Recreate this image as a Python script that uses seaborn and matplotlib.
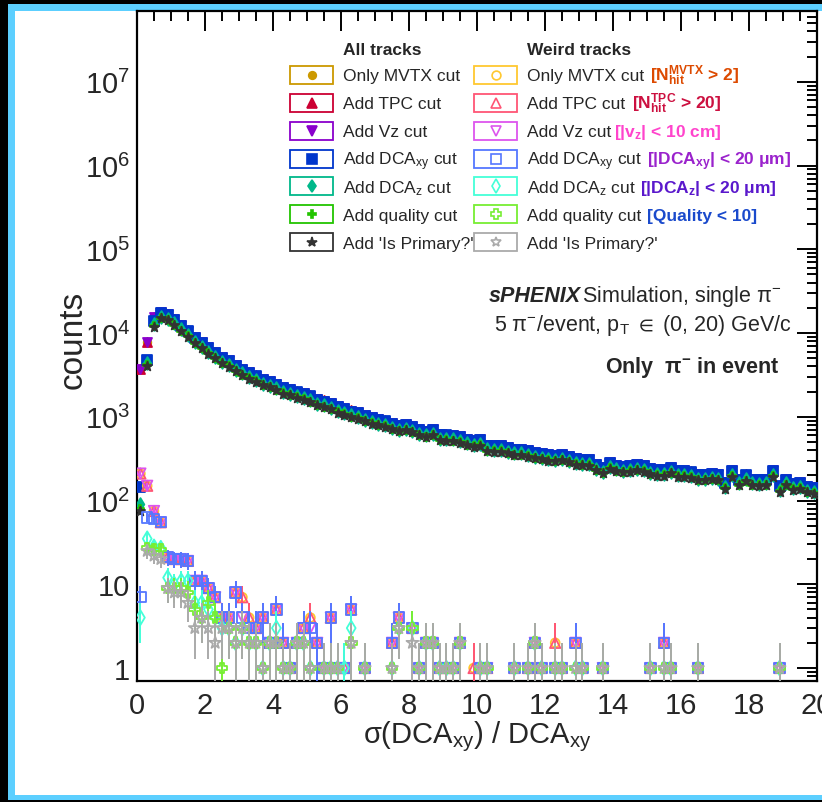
import numpy as np
import matplotlib
matplotlib.use('Agg')
import matplotlib.pyplot as plt
import seaborn as sns
from matplotlib.patches import Rectangle
from matplotlib.lines import Line2D
from matplotlib.ticker import FixedLocator, LogLocator, FuncFormatter, NullFormatter

sns.set_theme(style='white')
plt.rcParams['font.family'] = ['Liberation Sans', 'DejaVu Sans']
plt.rcParams['mathtext.fontset'] = 'custom'
plt.rcParams['mathtext.rm'] = 'Liberation Sans'
plt.rcParams['mathtext.it'] = 'Liberation Sans:italic'
plt.rcParams['mathtext.bf'] = 'Liberation Sans:bold'
plt.rcParams['mathtext.default'] = 'regular'

# ---------------- data (100 bins of width 0.2 on [0, 20]) ----------------
bin_edges = np.linspace(0, 20, 101)

all_mvtx = [3720, 7880, 15500, 17870, 17050, 14880, 12620, 10790, 8980, 7830,
            6820, 5950, 5180, 4730, 4190, 3760, 3430, 3130, 2850, 2680,
            2490, 2270, 2160, 2010, 1920, 1800, 1640, 1570, 1470, 1340,
            1270, 1190, 1130, 1060, 990, 948, 906, 850, 804, 827,
            783, 716, 685, 716, 628, 618, 613, 586, 549, 524,
            539, 466, 457, 457, 437, 417, 417, 399, 381, 370,
            359, 352, 363, 341, 322, 316, 311, 276, 252, 288,
            269, 260, 264, 276, 264, 245, 236, 236, 252, 230,
            230, 224, 209, 209, 215, 209, 167, 230, 183, 205,
            183, 180, 183, 230, 152, 183, 162, 167, 149, 145]
all_tpc = [3720, 7880, 15500, 17870, 17050, 14880, 12620, 10790, 8980, 7830,
           6820, 5950, 5180, 4730, 4190, 3760, 3430, 3130, 2850, 2680,
           2490, 2270, 2160, 2010, 1920, 1800, 1640, 1570, 1470, 1340,
           1270, 1190, 1130, 1060, 990, 948, 906, 850, 804, 827,
           783, 716, 685, 716, 628, 618, 613, 586, 549, 524,
           539, 466, 457, 457, 437, 417, 417, 399, 381, 370,
           359, 352, 363, 341, 322, 316, 311, 276, 252, 288,
           269, 260, 264, 276, 264, 245, 236, 236, 252, 230,
           230, 224, 209, 209, 215, 209, 167, 230, 183, 205,
           183, 180, 183, 230, 152, 183, 162, 167, 149, 145]
all_vz = [3700, 7850, 15400, 17800, 16950, 14800, 12550, 10700, 8930, 7780,
          6780, 5920, 5150, 4700, 4170, 3740, 3410, 3110, 2840, 2660,
          2480, 2250, 2150, 2000, 1910, 1790, 1630, 1560, 1460, 1330,
          1260, 1180, 1125, 1050, 985, 942, 900, 845, 800, 822,
          778, 712, 681, 712, 625, 614, 609, 583, 546, 521,
          536, 463, 455, 455, 434, 415, 415, 397, 379, 368,
          357, 350, 361, 339, 320, 314, 309, 274, 251, 287,
          267, 258, 262, 274, 262, 244, 235, 235, 251, 229,
          229, 222, 208, 208, 214, 208, 166, 229, 182, 204,
          182, 179, 182, 229, 151, 182, 161, 166, 148, 144]
all_dcaxy = [145, 4800, 14000, 17350, 16550, 14450, 12250, 10480, 8720, 7600,
             6620, 5780, 5030, 4590, 4070, 3650, 3330, 3040, 2770, 2600,
             2420, 2200, 2100, 1955, 1865, 1750, 1595, 1520, 1425, 1300,
             1235, 1155, 1100, 1028, 960, 920, 880, 825, 781, 803,
             760, 695, 665, 695, 610, 600, 595, 569, 533, 509,
             523, 452, 444, 444, 424, 405, 405, 387, 370, 359,
             349, 342, 352, 331, 313, 307, 302, 268, 245, 280,
             261, 252, 256, 268, 256, 238, 229, 229, 245, 223,
             223, 217, 203, 203, 209, 203, 162, 223, 178, 199,
             178, 175, 178, 223, 148, 178, 157, 162, 145, 141]
all_dcaz = [90, 4400, 12700, 15620, 14900, 13000, 11030, 9430, 7850, 6840,
            5960, 5200, 4530, 4130, 3660, 3290, 3000, 2740, 2490, 2340,
            2180, 1980, 1890, 1760, 1680, 1575, 1435, 1370, 1280, 1170,
            1110, 1040, 990, 925, 864, 828, 792, 743, 703, 723,
            684, 626, 599, 626, 549, 540, 536, 512, 480, 458,
            471, 407, 400, 400, 382, 365, 365, 348, 333, 323,
            314, 308, 317, 298, 282, 276, 272, 241, 221, 252,
            235, 227, 230, 241, 230, 214, 206, 206, 221, 201,
            201, 195, 183, 183, 188, 183, 146, 201, 160, 179,
            160, 158, 160, 201, 133, 160, 141, 146, 131, 127]
all_quality = [80, 4150, 12100, 15090, 14400, 12570, 10660, 9120, 7590, 6610,
               5760, 5030, 4380, 3990, 3540, 3180, 2900, 2640, 2410, 2260,
               2110, 1910, 1830, 1700, 1620, 1520, 1390, 1320, 1240, 1130,
               1070, 1005, 957, 894, 835, 800, 766, 718, 679, 699,
               661, 605, 579, 605, 531, 522, 518, 495, 464, 443,
               455, 393, 386, 386, 369, 352, 352, 337, 322, 312,
               304, 298, 306, 288, 272, 267, 263, 233, 213, 244,
               227, 219, 223, 233, 223, 207, 199, 199, 213, 194,
               194, 189, 177, 177, 182, 177, 141, 194, 155, 173,
               155, 152, 155, 194, 129, 155, 137, 141, 126, 123]
all_primary = [75, 4000, 11800, 14920, 14230, 12430, 10540, 9010, 7500, 6540,
               5690, 4970, 4330, 3950, 3500, 3140, 2860, 2610, 2380, 2240,
               2080, 1890, 1810, 1680, 1600, 1510, 1370, 1310, 1230, 1120,
               1060, 993, 946, 884, 826, 791, 757, 710, 672, 691,
               654, 598, 572, 598, 525, 516, 512, 489, 458, 438,
               450, 389, 382, 382, 365, 348, 348, 333, 318, 309,
               300, 294, 303, 285, 269, 264, 260, 230, 211, 241,
               224, 217, 220, 230, 220, 205, 197, 197, 211, 192,
               192, 187, 175, 175, 180, 175, 139, 192, 153, 171,
               153, 151, 153, 192, 127, 153, 135, 139, 125, 121]

weird_mvtx = [210, 150, 75, 55, 21, 20, 20, 19, 11, 11, 9, 7, 4, 4, 8, 7, 4, 3, 4, 2,
              5, 2, 1, 2, 3, 4, 2, 1, 4, 1, 1, 5, 0, 1, 0, 0, 0, 2, 4, 0,
              3, 1, 2, 2, 1, 1, 1, 2, 0, 1, 1, 1, 0, 0, 0, 1, 0, 1, 2, 1,
              0, 2, 1, 0, 2, 1, 0, 0, 1, 0, 0, 0, 0, 0, 0, 1, 0, 2, 1, 0,
              0, 0, 1, 0, 0, 0, 0, 0, 0, 0, 0, 0, 0, 0, 1, 0, 0, 0, 0, 0]
weird_tpc = [210, 150, 75, 55, 21, 20, 20, 19, 11, 11, 9, 7, 4, 4, 8, 7, 4, 3, 4, 2,
             5, 2, 1, 2, 3, 4, 2, 1, 4, 1, 1, 5, 0, 1, 0, 0, 0, 2, 4, 0,
             3, 1, 2, 2, 1, 1, 1, 2, 0, 1, 1, 1, 0, 0, 0, 1, 0, 1, 2, 1,
             0, 2, 1, 0, 2, 1, 0, 0, 1, 0, 0, 0, 0, 0, 0, 1, 0, 2, 1, 0,
             0, 0, 1, 0, 0, 0, 0, 0, 0, 0, 0, 0, 0, 0, 1, 0, 0, 0, 0, 0]
weird_vz = [210, 150, 75, 55, 21, 20, 20, 19, 11, 11, 9, 7, 4, 4, 8, 4, 3, 3, 4, 2,
            5, 2, 1, 2, 3, 3, 2, 1, 4, 1, 1, 5, 0, 1, 0, 0, 0, 2, 4, 0,
            3, 1, 2, 2, 1, 1, 1, 2, 0, 0, 1, 1, 0, 0, 0, 1, 0, 1, 2, 1,
            0, 1, 1, 0, 2, 1, 0, 0, 1, 0, 0, 0, 0, 0, 0, 1, 0, 2, 1, 0,
            0, 0, 1, 0, 0, 0, 0, 0, 0, 0, 0, 0, 0, 0, 1, 0, 0, 0, 0, 0]
weird_dcaxy = [7, 63, 60, 55, 21, 20, 20, 19, 11, 11, 9, 7, 4, 4, 8, 4, 3, 3, 4, 2,
               5, 2, 1, 2, 3, 3, 2, 1, 4, 1, 1, 5, 0, 1, 0, 0, 0, 2, 4, 0,
               3, 1, 2, 2, 1, 1, 1, 2, 0, 0, 1, 1, 0, 0, 0, 1, 0, 1, 2, 1,
               0, 1, 1, 0, 2, 1, 0, 0, 1, 0, 0, 0, 0, 0, 0, 1, 0, 2, 1, 0,
               0, 0, 1, 0, 0, 0, 0, 0, 0, 0, 0, 0, 0, 0, 1, 0, 0, 0, 0, 0]
weird_dcaz = [4, 35, 28, 27, 12, 10, 11, 11, 6, 6, 5, 4, 3, 3, 2, 3, 2, 2, 1, 2,
              3, 1, 1, 2, 2, 1, 0, 1, 1, 1, 1, 3, 0, 1, 0, 0, 0, 1, 3, 0,
              3, 1, 2, 2, 1, 1, 1, 2, 0, 0, 1, 1, 0, 0, 0, 1, 0, 1, 2, 1,
              0, 1, 1, 0, 1, 1, 0, 0, 1, 0, 0, 0, 0, 0, 0, 1, 0, 1, 1, 0,
              0, 0, 1, 0, 0, 0, 0, 0, 0, 0, 0, 0, 0, 0, 1, 0, 0, 0, 0, 0]
weird_quality = [0, 27, 26, 26, 9, 9, 9, 8, 5, 4, 6, 4, 1, 3, 2, 3, 2, 2, 1, 2,
                 2, 1, 1, 2, 2, 1, 0, 1, 1, 1, 0, 2, 0, 1, 0, 0, 0, 1, 3, 0,
                 3, 1, 2, 2, 1, 1, 1, 2, 0, 0, 1, 1, 0, 0, 0, 1, 0, 1, 2, 1,
                 0, 1, 1, 0, 1, 1, 0, 0, 1, 0, 0, 0, 0, 0, 0, 1, 0, 1, 1, 0,
                 0, 0, 1, 0, 0, 0, 0, 0, 0, 0, 0, 0, 0, 0, 1, 0, 0, 0, 0, 0]
weird_primary = [0, 25, 22, 20, 9, 8, 8, 6, 3, 4, 3, 2, 3, 3, 2, 3, 2, 2, 1, 2,
                 2, 1, 1, 2, 2, 1, 0, 1, 1, 1, 0, 2, 0, 1, 0, 0, 0, 1, 3, 0,
                 2, 1, 2, 2, 1, 1, 1, 2, 0, 0, 1, 1, 0, 0, 0, 1, 0, 1, 2, 1,
                 0, 1, 1, 0, 1, 1, 0, 0, 1, 0, 0, 0, 0, 0, 0, 1, 0, 1, 1, 0,
                 0, 0, 1, 0, 0, 0, 0, 0, 0, 0, 0, 0, 0, 0, 1, 0, 0, 0, 0, 0]

all_labels = ['Only MVTX cut', 'Add TPC cut', 'Add Vz cut', r'Add DCA$_{xy}$ cut',
              r'Add DCA$_{z}$ cut', 'Add quality cut', "Add 'Is Primary?'"]
cut_labels = [r'[N$_{\mathbf{hit}}^{\mathbf{MVTX}}$ > 2]', r'[N$_{\mathbf{hit}}^{\mathbf{TPC}}$ > 20]',
              r'[|v$_{\mathbf{z}}$| < 10 cm]', r'[|DCA$_{\mathbf{xy}}$| < 20 μm]',
              r'[|DCA$_{\mathbf{z}}$| < 20 μm]', '[Quality < 10]', '']
cut_colors = ['#dd4a00', '#cc1040', '#ff44cc', '#9a22cc', '#5a18cc', '#1a4acc', 'k']
cut_x = [650, 632, 614, 647, 640, 647, 0]

all_series = [all_mvtx, all_tpc, all_vz, all_dcaxy, all_dcaz, all_quality, all_primary]
weird_series = [weird_mvtx, weird_tpc, weird_vz, weird_dcaxy, weird_dcaz, weird_quality, weird_primary]
all_colors = ['#cc9900', '#cc0033', '#8a00cc', '#0036cc', '#00b88a', '#22c400', '#333333']
weird_colors = ['#ffc830', '#ff5575', '#dd55ee', '#5577ff', '#44ffd8', '#77ee33', '#aaaaaa']
markers = ['o', '^', 'v', 's', 'd', 'P', '*']
all_sizes = [30, 42, 42, 58, 42, 38, 48]
weird_sizes = [40, 56, 56, 56, 56, 60, 80]

# ---------------- figure ----------------
W, H = 822, 803
fig = plt.figure(figsize=(W / 100, H / 100), dpi=100, facecolor='black')

def fx(x):
    return x / W

def fy(y):
    return 1 - y / H

fig.add_artist(Rectangle((fx(8), fy(801)), fx(840 - 8), (801 - 5) / H, transform=fig.transFigure,
                         facecolor='#5ccfff', edgecolor='none', zorder=-20))
fig.add_artist(Rectangle((fx(15), fy(796)), fx(840 - 15), (796 - 12) / H, transform=fig.transFigure,
                         facecolor='white', edgecolor='none', zorder=-19))

ax = fig.add_axes([fx(137), fy(682), fx(817 - 137), (682 - 12) / H])
ax.set_facecolor('white')

centers = 0.5 * (bin_edges[:-1] + bin_edges[1:])


def draw(vals, marker, color, size, filled, z):
    v = np.asarray(vals, dtype=float)
    m = v > 0
    x = centers[m]
    y = v[m]
    err = np.sqrt(y)
    lo = np.clip(y - err, 1e-3, None)
    ax.vlines(x, lo, y + err, color=color, lw=1.4, zorder=z)
    sns.scatterplot(x=x, y=y, ax=ax, marker=marker, s=size, color=color,
                    edgecolor=color, linewidth=1.3, legend=False, zorder=z + 0.5)
    coll = ax.collections[-1]
    if not filled:
        coll.set_facecolor('none')
    coll.set_edgecolor(color)


for i, vals in enumerate(all_series):
    draw(vals, markers[i], all_colors[i], all_sizes[i], True, 3 + i)
for i, vals in enumerate(weird_series):
    draw(vals, markers[i], weird_colors[i], weird_sizes[i], False, 12 + i)

ax.set_yscale('log')
ax.set_xlim(0, 20)
ax.set_ylim(0.7, 7e7)
ax.xaxis.set_major_locator(FixedLocator(np.arange(0, 21, 2)))
ax.xaxis.set_minor_locator(FixedLocator(np.arange(0, 20.01, 0.5)))
ax.yaxis.set_major_locator(LogLocator(base=10, numticks=20))
ax.yaxis.set_minor_locator(LogLocator(base=10, subs=np.arange(2, 10), numticks=20))
ax.yaxis.set_minor_formatter(NullFormatter())


def yfmt(v, pos):
    e = int(round(np.log10(v)))
    if e == 0:
        return '1'
    if e == 1:
        return '10'
    return r'$10^{%d}$' % e


ax.yaxis.set_major_formatter(FuncFormatter(yfmt))
ax.xaxis.set_major_formatter(FuncFormatter(lambda v, p: '%d' % v))
ax.tick_params(which='both', direction='in', top=True, right=True, width=1.4, color='black')
ax.tick_params(which='major', length=14.5)
ax.tick_params(which='minor', length=7)
ax.tick_params(axis='x', labelsize=21, pad=7)
ax.tick_params(axis='y', labelsize=21, pad=5)
for sp in ax.spines.values():
    sp.set_color('black')
    sp.set_linewidth(1.6)
ax.xaxis.label.set_visible(False)
ax.yaxis.label.set_visible(False)

fig.text(fx(477), fy(743), r'$\sigma$(DCA$_{xy}$) / DCA$_{xy}$', fontsize=21, ha='center', va='baseline')
fig.text(fx(73), fy(340), 'counts', fontsize=24, rotation=90, ha='center', va='center')

# annotations
fig.text(fx(489), fy(302), 'sPHENIX', fontsize=15.5, fontweight='bold', fontstyle='italic', va='baseline')
fig.text(fx(582), fy(302), r'Simulation, single $\pi^{-}$', fontsize=15.5, va='baseline')
fig.text(fx(494), fy(331), r'5 $\pi^{-}$/event, p$_{T}$ $\in$ (0, 20) GeV/c', fontsize=15.5, va='baseline')
fig.text(fx(780), fy(373), r'Only  $\pi^{-}$ in event', fontsize=15.5, fontweight='bold', ha='right', va='baseline')

# legend
fig.text(fx(343), fy(55), 'All tracks', fontsize=12.5, fontweight='bold', va='baseline')
fig.text(fx(527), fy(55), 'Weird tracks', fontsize=12.5, fontweight='bold', va='baseline')
row_y = [75.8, 103.7, 131.6, 159.5, 187.4, 215.3, 243.2]
for i in range(7):
    yc = row_y[i]
    for (bx0, bx1, col, filled, sz) in [(290, 333, all_colors[i], True, all_sizes[i]),
                                        (474, 517, weird_colors[i], False, weird_sizes[i])]:
        fig.add_artist(Rectangle((fx(bx0), fy(yc + 9)), fx(bx1 - bx0), 18 / H, transform=fig.transFigure,
                                 facecolor='white', edgecolor=col, lw=1.3, zorder=5))
        fig.add_artist(Line2D([fx((bx0 + bx1) / 2)], [fy(yc)], transform=fig.transFigure, marker=markers[i],
                              markersize=np.sqrt(min(sz, 50)), color=col, markeredgecolor=col,
                              markerfacecolor=col if filled else 'none', markeredgewidth=1.2,
                              linestyle='none', zorder=6))
    fig.text(fx(343), fy(yc + 5.5), all_labels[i], fontsize=12.5, va='baseline')
    fig.text(fx(527), fy(yc + 5.5), all_labels[i], fontsize=12.5, va='baseline')
    if cut_labels[i]:
        fig.text(fx(cut_x[i]), fy(yc + 5.5), cut_labels[i], fontsize=12.5, fontweight='bold',
                 color=cut_colors[i], va='baseline')

fig.savefig('out.png', dpi=100, facecolor=fig.get_facecolor())
